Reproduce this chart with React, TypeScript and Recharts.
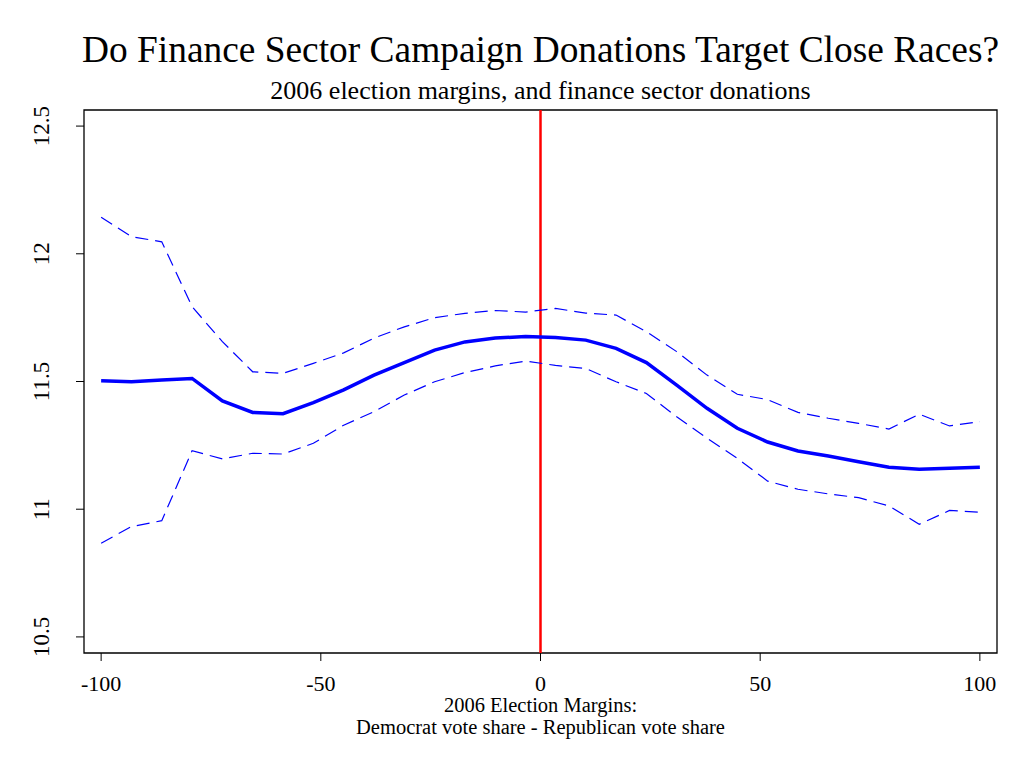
import { LineChart, Line, XAxis, YAxis, ReferenceLine, ReferenceArea } from "recharts"

// election margin (Dem - Rep), grid the smoother was evaluated on
const margins = [
  -100, -93.1, -86.2, -79.3, -72.4, -65.5, -58.6, -51.7, -44.8, -37.9,
  -31.0, -24.1, -17.2, -10.3, -3.4, 3.4, 10.3, 17.2, 24.1, 31.0,
  37.9, 44.8, 51.7, 58.6, 65.5, 72.4, 79.3, 86.2, 93.1, 100,
]

// log finance donations, fitted
const fit = [
  11.503, 11.499, 11.506, 11.512, 11.424, 11.379, 11.374, 11.417, 11.467, 11.525,
  11.574, 11.623, 11.655, 11.670, 11.676, 11.672, 11.662, 11.630, 11.574, 11.486,
  11.395, 11.317, 11.263, 11.228, 11.208, 11.186, 11.164, 11.156, 11.160, 11.164,
]

// confidence band
const upper = [
  12.143, 12.067, 12.047, 11.793, 11.656, 11.538, 11.532, 11.571, 11.612, 11.670,
  11.714, 11.750, 11.767, 11.778, 11.772, 11.786, 11.768, 11.760, 11.695, 11.617,
  11.525, 11.450, 11.429, 11.379, 11.356, 11.336, 11.314, 11.372, 11.326, 11.343,
]

const lower = [
  10.867, 10.932, 10.955, 11.229, 11.197, 11.219, 11.216, 11.258, 11.329, 11.382,
  11.447, 11.499, 11.535, 11.561, 11.580, 11.563, 11.551, 11.499, 11.453, 11.362,
  11.278, 11.199, 11.110, 11.078, 11.060, 11.045, 11.013, 10.941, 10.995, 10.988,
]

const xTicks = [-100, -50, 0, 50, 100]
const yTicks = [10.5, 11, 11.5, 12, 12.5]

const data = margins.map((m, i) => ({ m, fit: fit[i], upper: upper[i], lower: lower[i] }))

const font = "'Liberation Serif', 'Times New Roman', serif"

function YTick(props: any) {
  const { x, y, payload } = props
  const tx = x - 25
  return (
    <text x={tx} y={y} transform={`rotate(-90, ${tx}, ${y})`} textAnchor="middle"
      fontFamily={font} fontSize={23} fill="#000">
      {payload.value}
    </text>
  )
}

export default function App() {
  return (
    <div style={{ position: "absolute", left: 0, top: 0, width: 1024, height: 768, background: "#fff" }}>
      <LineChart width={1024} height={768} data={data}
        margin={{ top: 110, right: 27, bottom: 55, left: 24 }}>
        <ReferenceArea x1={-103.9} x2={103.9} y1={10.437} y2={12.563}
          fill="none" stroke="#000" strokeWidth={1.3} ifOverflow="visible" />
        <XAxis dataKey="m" type="number" domain={[-103.9, 103.9]} ticks={xTicks}
          allowDataOverflow height={60} axisLine={false} tickSize={8} tickMargin={14}
          tickLine={{ stroke: "#000" }}
          tick={{ fontFamily: font, fontSize: 22, fill: "#000" }} />
        <YAxis type="number" domain={[10.437, 12.563]} ticks={yTicks} allowDataOverflow
          width={60} axisLine={false} tickSize={8} tickLine={{ stroke: "#000" }}
          tick={<YTick />} />
        <ReferenceLine x={0} stroke="#ff0000" strokeWidth={2.5} />
        <Line type="linear" dataKey="upper" stroke="#0000ff" strokeWidth={1.2}
          strokeDasharray="13 7" dot={false} isAnimationActive={false} />
        <Line type="linear" dataKey="lower" stroke="#0000ff" strokeWidth={1.2}
          strokeDasharray="13 7" dot={false} isAnimationActive={false} />
        <Line type="linear" dataKey="fit" stroke="#0000ff" strokeWidth={3.5}
          dot={false} isAnimationActive={false} />
      </LineChart>
      <svg width={1024} height={768} style={{ position: "absolute", left: 0, top: 0, pointerEvents: "none" }}>
        <g fontFamily={font} fill="#000" textAnchor="middle">
          <text x={540.5} y={62} fontSize={37.4}>Do Finance Sector Campaign Donations Target Close Races?</text>
          <text x={540.5} y={99} fontSize={26}>2006 election margins, and finance sector donations</text>
          <text x={540.5} y={712} fontSize={20.5}>2006 Election Margins:</text>
          <text x={540.5} y={734} fontSize={20.5}>Democrat vote share - Republican vote share</text>
        </g>
      </svg>
    </div>
  )
}
